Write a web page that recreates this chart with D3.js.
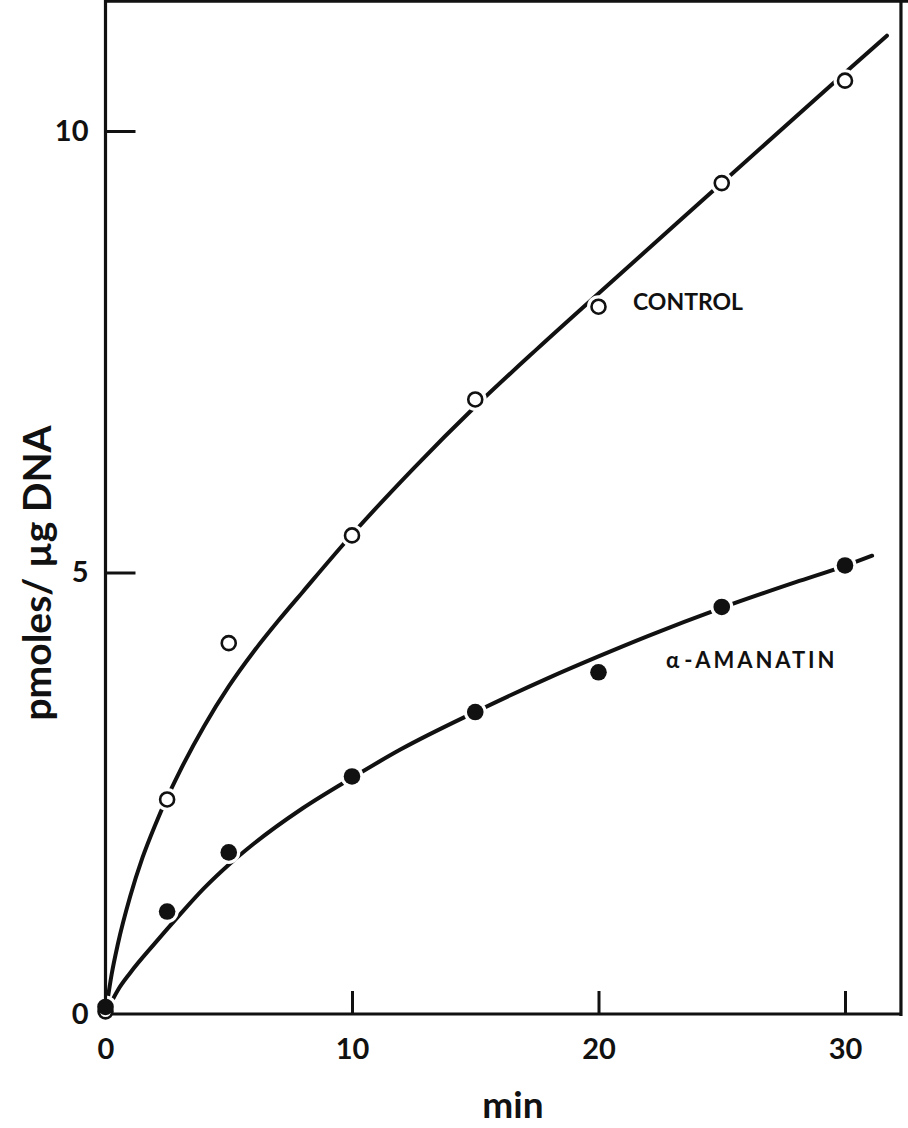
<!DOCTYPE html>
<html>
<head>
<meta charset="utf-8">
<script src="https://cdn.jsdelivr.net/npm/d3@7"></script>
<style>
  html, body { margin: 0; padding: 0; background: #fff; }
  svg { display: block; }
  text { font-family: Lato, "Open Sans", sans-serif; fill: #111; }
</style>
</head>
<body>
<script>
// Incubation times (min) and measured incorporation (pmoles / µg DNA)
const timeMin = [0, 2.5, 5, 10, 15, 20, 25, 30];
const controlValues = [0.03, 2.43, 4.2, 5.42, 6.96, 8.01, 9.41, 10.57];
const amanatinValues = [0.08, 1.16, 1.83, 2.69, 3.42, 3.87, 4.61, 5.08];

// Hand-fitted smooth curves through each series
const controlFitX = [0, 0.25, 0.5, 1, 1.5, 2, 2.5, 3, 4, 5, 6, 7, 8, 10, 12.5, 15, 17.5, 20, 25, 30, 31.7];
const controlFitY = [0, 0.45, 0.79, 1.33, 1.77, 2.13, 2.45, 2.74, 3.26, 3.71, 4.10, 4.45, 4.78, 5.43, 6.18, 6.88, 7.53, 8.16, 9.41, 10.66, 11.08];
const amanatinFitX = [0, 0.5, 1, 2, 3, 4, 5, 6, 8, 10, 12, 15, 18, 20, 22, 25, 28, 30, 31.1];
const amanatinFitY = [0, 0.27, 0.465, 0.8, 1.12, 1.425, 1.69, 1.925, 2.33, 2.675, 3.0, 3.42, 3.81, 4.05, 4.28, 4.6, 4.89, 5.075, 5.19];

// Axis ticks
const xTicks = [0, 10, 20, 30];
const yTicks = [0, 5, 10];

const W = 908, H = 1128;
const svg = d3.select("body").append("svg").attr("width", W).attr("height", H);

const x = d3.scaleLinear().domain([0, 30]).range([105.5, 845]);
const y = d3.scaleLinear().domain([0, 10]).range([1014, 131]);
const xEnd = 32.27, yTop = 11.47;

const ink = "#111";

const line = d3.line()
  .x(d => x(d[0]))
  .y(d => y(d[1]))
  .curve(d3.curveMonotoneX);

const curves = [
  d3.zip(controlFitX, controlFitY),
  d3.zip(amanatinFitX, amanatinFitY)
];

svg.append("g").selectAll("path").data(curves).join("path")
  .attr("d", line)
  .attr("fill", "none")
  .attr("stroke", ink)
  .attr("stroke-width", 4)
  .attr("stroke-linecap", "round");

const controlPts = d3.zip(timeMin, controlValues);
const amanatinPts = d3.zip(timeMin, amanatinValues);

// white gaps where the curves pass the symbols
svg.append("g").selectAll("circle").data(controlPts.concat(amanatinPts)).join("circle")
  .attr("cx", d => x(d[0])).attr("cy", d => y(d[1]))
  .attr("r", 11.5).attr("fill", "#fff");

// frame
svg.append("path")
  .attr("d", `M${x(0)},${y(0)} V${y(yTop)} H${W} M${x(xEnd)},${y(yTop)} V${y(0) + 2} M${x(0)},${y(0)} H${x(xEnd) + 1.5}`)
  .attr("fill", "none").attr("stroke", ink).attr("stroke-width", 3.2);

// axes with inward ticks
const yAxis = svg.append("g").attr("transform", `translate(${x(0)},0)`)
  .call(d3.axisLeft(y).tickValues(yTicks).tickSize(-30).tickPadding(17).tickFormat(d3.format("d")));
const xAxis = svg.append("g").attr("transform", `translate(0,${y(0)})`)
  .call(d3.axisBottom(x).tickValues(xTicks).tickSize(-23).tickPadding(24).tickFormat(d3.format("d")));

[yAxis, xAxis].forEach(g => {
  g.select(".domain").remove();
  g.selectAll(".tick line").attr("stroke", ink).attr("stroke-width", 3);
  g.selectAll(".tick text").attr("fill", ink)
    .style("font-size", "29px").style("font-weight", 700);
});
xAxis.selectAll(".tick").filter(d => d === 0).select("line").remove();
yAxis.selectAll(".tick").filter(d => d === 0).select("line").remove();

// symbols
svg.append("g").selectAll("circle").data(controlPts).join("circle")
  .attr("cx", d => x(d[0])).attr("cy", d => y(d[1]))
  .attr("r", 7).attr("fill", "#fff").attr("stroke", ink).attr("stroke-width", 2.6);
svg.append("g").selectAll("circle").data(amanatinPts).join("circle")
  .attr("cx", d => x(d[0])).attr("cy", d => y(d[1]))
  .attr("r", 8.3).attr("fill", ink);

// axis titles
svg.append("text")
  .attr("x", 513).attr("y", 1118)
  .attr("text-anchor", "middle")
  .style("font-size", "37px").style("font-weight", 700)
  .text("min");

svg.append("text")
  .attr("transform", "translate(51,573) rotate(-90)")
  .attr("text-anchor", "middle")
  .style("font-size", "39px").style("font-weight", 700)
  .text("pmoles/ µg DNA");

// series labels
svg.append("text")
  .attr("x", 633).attr("y", 310)
  .style("font-size", "23px").style("font-weight", 700)
  .text("CONTROL");

const amLabel = svg.append("text")
  .attr("x", 666).attr("y", 668)
  .style("font-size", "22px").style("font-weight", 700);
amLabel.append("tspan").text("α");
amLabel.append("tspan").attr("dx", 5).style("letter-spacing", "2.9px").text("-AMANATIN");
</script>
</body>
</html>
